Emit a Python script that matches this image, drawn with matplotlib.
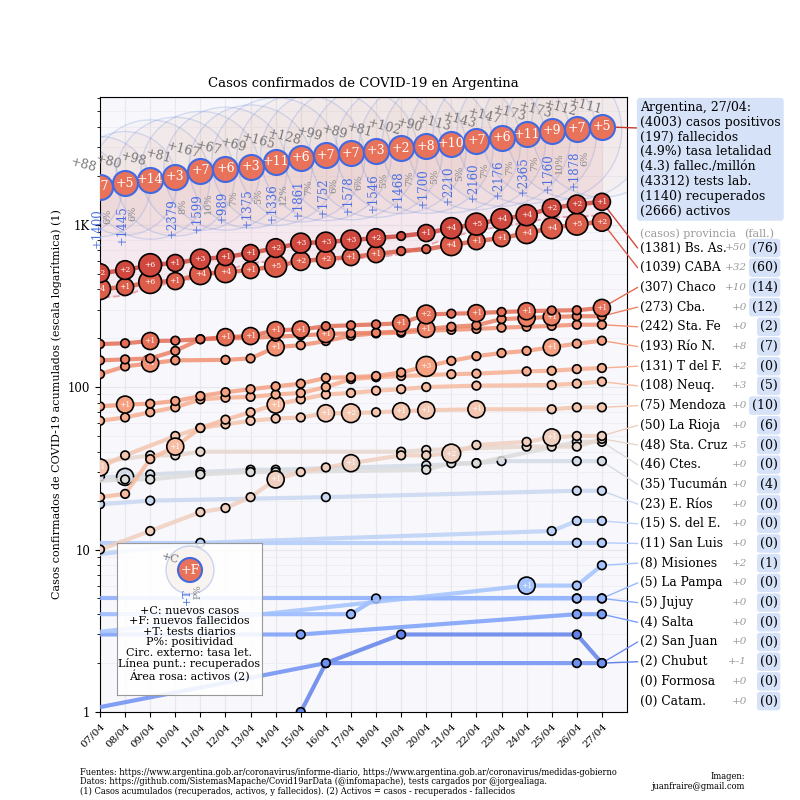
import numpy as np
import matplotlib
matplotlib.use('Agg')
import matplotlib.pyplot as plt
from matplotlib.patches import Circle

plt.rcParams['font.family'] = ['DejaVu Serif', 'DejaVu Sans']

N = None
dates = ['06/04', '07/04', '08/04', '09/04', '10/04', '11/04', '12/04', '13/04', '14/04',
         '15/04', '16/04', '17/04', '18/04', '19/04', '20/04', '21/04', '22/04', '23/04',
         '24/04', '25/04', '26/04', '27/04']

# ---- national series ----
arg_cases = [1627, 1715, 1795, 1893, 1974, 2141, 2208, 2277, 2442, 2570, 2669, 2758, 2839,
             2941, 3031, 3144, 3287, 3434, 3607, 3780, 3892, 4003]
arg_new_cases = [N, 88, 80, 98, 81, 167, 67, 69, 165, 128, 99, 89, 81, 102, 90, 113, 143, 147,
                 173, 173, 112, 111]
arg_deaths = [53, 60, 65, 79, 82, 89, 95, 98, 109, 115, 122, 129, 132, 134, 142, 152, 159, 165,
              176, 185, 192, 197]
arg_new_deaths = [N, 7, 5, 14, 3, 7, 6, 3, 11, 6, 7, 7, 3, 2, 8, 10, 7, 6, 11, 9, 7, 5]
arg_recovered = [340, 354, 366, 414, 440, 475, 520, 580, 596, 610, 615, 620, 625, 660, 740, 840,
                 919, 976, 1030, 1107, 1120, 1140]
arg_tests = [N, 1400, 1445, N, 2379, 1599, 989, 1375, 1336, 1861, 1752, 1578, 1546, 1468, 1700,
             2210, 2160, 2176, 2365, 1760, 1878, N]
arg_positivity = [N, 6, 6, N, 8, 10, 7, 5, 12, 7, 6, 6, 5, 7, 5, 5, 7, 7, 7, 10, 6, N]
arg_total_tests = 43312
arg_deaths_per_million = 4.3

# ---- provinces ----
prov_names = ['Bs. As.', 'CABA', 'Chaco', 'Cba.', 'Sta. Fe', 'Río N.', 'T del F.', 'Neuq.',
              'Mendoza', 'La Rioja', 'Sta. Cruz', 'Ctes.', 'Tucumán', 'E. Ríos', 'S. del E.',
              'San Luis', 'Misiones', 'La Pampa', 'Jujuy', 'Salta', 'San Juan', 'Chubut',
              'Formosa', 'Catam.']
prov_totals = [1381, 1039, 307, 273, 242, 193, 131, 108, 75, 50, 48, 46, 35, 23, 15, 11, 8, 5, 5,
               4, 2, 2, 0, 0]
prov_last_new = [50, 32, 10, 0, 0, 8, 2, 3, 0, 0, 5, 0, 0, 0, 0, 0, 2, 0, 0, 0, 0, -1, 0, 0]
prov_total_deaths = [76, 60, 14, 12, 2, 7, 0, 5, 10, 6, 0, 0, 4, 0, 0, 0, 1, 0, 0, 0, 0, 0, 0, 0]

bsas_cases = [480, 503, 525, 563, 580, 613, 631, 668, 717, 769, 780, 803, 826, 850, 887, 951, 1007,
              1081, 1143, 1264, 1331, 1381]
bsas_new_deaths = [0, 2, 2, 6, 1, 3, 1, 1, 2, 3, 3, 3, 2, 0, 1, 4, 5, 4, 4, 2, 2, 1]
caba_cases = [390, 401, 413, 443, 449, 496, 510, 525, 556, 596, 613, 631, 658, 687, 706, 748, 791,
              826, 887, 951, 1007, 1039]
caba_new_deaths = [0, 4, 1, 6, 1, 4, 4, 1, 5, 2, 2, 1, 1, 0, 0, 4, 1, 1, 4, 4, 5, 2]
chaco_cases = [180, 184, 186, 192, 193, 197, 203, 206, 224, 226, 237, 240, 243, 247, 280, 283, 285,
               290, 293, 296, 297, 307]
chaco_new_deaths = [0, 0, 0, 1, 0, 0, 1, 1, 1, 1, 0, 0, 0, 1, 2, 0, 1, 0, 1, 0, 0, 1]
cba_cases = [140, 146, 148, 150, 167, 197, 199, 201, 204, 208, 212, 214, 216, 220, 228, 235, 240,
             262, 266, 270, 273, 273]
cba_new_deaths = [0, 0, 0, 0, 0, 0, 0, 0, 0, 0, 1, 0, 0, 0, 1, 0, 0, 0, 1, 1, 0, 0]
stafe_cases = [115, 120, 134, 140, 146, N, 147, 150, 176, 181, 192, 207, 214, 216, 222, 225, 228,
               232, 235, 238, 242, 242]
stafe_new_deaths = [0, 0, 0, 1, 0, 0, 0, 0, 1, 0, 0, 0, 0, 0, 0, 0, 0, 0, 0, 0, 0, 0]
rion_cases = [74, 76, 78, 79, 82, 88, 93, 97, 101, 105, 114, 115, 117, 123, 134, 145, 155, 162,
              167, 176, 185, 193]
rion_new_deaths = [0, 0, 1, 0, 0, 0, 0, 0, 0, 0, 0, 0, 0, 0, 3, 0, 0, 0, 0, 1, 0, 0]
tdf_cases = [60, 62, 65, 70, 75, 84, 86, 87, 90, 92, 100, 112, 115, 117, N, 120, 121, N, 125, 126,
             129, 131]
neuq_cases = [19, 21, 22, 36, 43, 56, 63, 70, 78, 84, 90, 92, 95, 97, 100, N, 102, N, N, 103, 105,
              108]
neuq_new_deaths = [0, 0, 0, 0, 1, 0, 0, 0, 1, 0, 0, 0, 0, 0, 0, 0, 0, 0, 0, 0, 0, 0]
mza_cases = [28, 32, 38, N, 50, 56, 59, 62, 64, 65, 69, 69, 70, 71, 72, N, 73, N, N, 73, 75, 75]
mza_new_deaths = [0, 1, 0, 0, 0, 0, 0, 0, 0, 0, 1, 2, 0, 1, 1, 0, 1, 0, 0, 0, 0, 0]
lrioja_cases = [9, 10, N, 13, N, 17, 18, 21, 27, 30, 32, 34, N, 38, 38, 39, 44, N, 46, 49, 50, 50]
lrioja_new_deaths = [0, 0, 0, 0, 0, 0, 0, 0, 1, 0, 0, 1, 0, 0, 0, 2, 0, 0, 0, 1, 0, 0]
stacruz_cases = [33, N, N, 38, 38, 40, N, N, N, N, N, N, N, 40, 41, N, N, N, 43, 43, 43, 48]
ctes_cases = [26, N, 27, 27, N, 29, N, 30, 30, N, N, N, N, N, 31, 34, 34, N, N, N, 46, 46]
tucuman_cases = [27, 28, 28, 29, N, 30, N, 31, 31, N, N, N, N, N, 33, N, 34, 35, N, N, 35, 35]
tucuman_new_deaths = [0, 0, 1, 0, 0, 0, 0, 0, 0, 0, 0, 0, 0, 0, 0, 0, 0, 0, 0, 0, 0, 0]
erios_cases = [19, 19, N, 20, N, N, N, N, N, N, 21, N, N, N, N, N, N, N, N, N, 23, 23]
sde_cases = [9, N, N, N, N, 11, N, N, N, N, N, N, N, N, N, N, N, N, N, 13, 15, 15]
sanluis_cases = [11, N, N, N, N, N, N, N, N, N, N, N, N, N, N, N, N, N, N, N, 11, 11]
misiones_cases = [3, N, N, N, N, N, N, N, N, N, N, N, N, N, N, N, N, N, 6, N, 6, 8]
misiones_new_deaths = [0, 0, 0, 0, 0, 0, 0, 0, 0, 0, 0, 0, 0, 0, 0, 0, 0, 0, 1, 0, 0, 0]
lapampa_cases = [4, N, N, N, N, N, N, N, N, N, N, 4, 5, N, N, N, N, N, N, N, 5, 5]
jujuy_cases = [5, N, N, N, N, N, N, N, N, N, N, N, N, N, N, N, N, N, N, N, 5, 5]
salta_cases = [3, N, N, N, N, N, N, N, N, 3, N, N, N, N, N, N, N, N, N, N, 4, 4]
sanjuan_cases = [1, N, N, N, N, N, N, N, N, N, 2, N, N, N, N, N, N, N, N, N, 2, 2]
chubut_cases = [N, N, N, N, N, N, N, N, N, 1, 2, N, N, 3, N, N, N, N, N, N, 3, 2]

prov_cases = [bsas_cases, caba_cases, chaco_cases, cba_cases, stafe_cases, rion_cases, tdf_cases,
              neuq_cases, mza_cases, lrioja_cases, stacruz_cases, ctes_cases, tucuman_cases,
              erios_cases, sde_cases, sanluis_cases, misiones_cases, lapampa_cases, jujuy_cases,
              salta_cases, sanjuan_cases, chubut_cases, None, None]
prov_new_deaths = [bsas_new_deaths, caba_new_deaths, chaco_new_deaths, cba_new_deaths,
                   stafe_new_deaths, rion_new_deaths, None, neuq_new_deaths, mza_new_deaths,
                   lrioja_new_deaths, None, None, tucuman_new_deaths, None, None, None,
                   misiones_new_deaths, None, None, None, None, None, None, None]

# ---------------------------------------------------------------
PX2PT = 0.72
fig = plt.figure(figsize=(8, 8), dpi=100)
ax = fig.add_axes([0.125, 0.11, 0.65875, 0.76875])
ax.set_facecolor('#f8f8fc')
ax.set_yscale('log')
ax.set_xlim(1, 22)
ax.set_ylim(1, 6100)
ax.grid(True, which='major', color='#e7e7ee', lw=0.9)
ax.grid(True, which='minor', axis='y', color='#ededf3', lw=0.6)
ax.set_axisbelow(True)

xs_all = np.arange(len(dates))
cases = np.array(arg_cases, float)
deaths = np.array(arg_deaths, float)
recov = np.array(arg_recovered, float)
rate = deaths / cases

# active area (pink)
ax.fill_between(xs_all, recov, cases - deaths, color='#eec3d0', alpha=0.28, lw=0, zorder=1)
# outer circles: lethality
r_outer = 14.3 * rate * 100
ax.scatter(xs_all, cases, s=(2 * r_outer * PX2PT) ** 2, facecolor=(0.82, 0.5, 0.38, 0.035),
           edgecolor=(0.42, 0.56, 0.88, 0.25), linewidths=1, zorder=2)
# recovered dashed
ax.plot(xs_all, recov, ls='--', color='#e6a0a8', lw=1.3, zorder=3)

# provinces
cmap = plt.get_cmap('coolwarm')
nprov = len(prov_names)
colors = [cmap(0.92 - 0.87 * i / (nprov - 1)) for i in range(nprov)]
for i in reversed(range(nprov)):
    vals = prov_cases[i]
    if vals is None:
        continue
    xs = [k for k, v in enumerate(vals) if v is not None]
    ys = [vals[k] for k in xs]
    col = colors[i]
    z = 5 + (nprov - i) * 0.1
    ax.plot(xs, ys, color=col, lw=3.2 if i < 2 else 3, alpha=0.85, zorder=z,
            solid_capstyle='round')
    nd = prov_new_deaths[i] if prov_new_deaths[i] is not None else [0] * len(vals)
    sizes = []
    for k in xs:
        n = nd[k]
        r = 6.5 + 2 * np.sqrt(n) if n > 0 else 4.3
        sizes.append((2 * r * PX2PT) ** 2)
    ax.scatter(xs, ys, s=sizes, color=col, edgecolors='black', linewidths=1.2, zorder=z + 0.01)
    for k in xs:
        if nd[k] > 0:
            ax.text(k, vals[k], f'+{nd[k]}', color='white', fontsize=5.5, ha='center',
                    va='center', zorder=z + 0.02, clip_on=True)

# national inner circles
ax.scatter(xs_all, cases, s=(25 * PX2PT) ** 2, facecolor='#e8735a', edgecolor='#4169e1',
           linewidths=1.5, zorder=10)
for k in range(1, len(dates)):
    ax.text(k, cases[k], f'+{arg_new_deaths[k]}', color='white', fontsize=9, ha='center',
            va='center', zorder=11, clip_on=True)
    ax.annotate(f'+{arg_new_cases[k]}', xy=(k, cases[k]), xytext=(-17 * PX2PT, 21 * PX2PT),
                textcoords='offset points', rotation=-15, color='#777777', fontsize=9,
                ha='center', va='center', zorder=12)
    if arg_tests[k] is not None:
        ax.annotate(f'+{arg_tests[k]}', xy=(k, cases[k]), xytext=(-3 * PX2PT, -22 * PX2PT),
                    textcoords='offset points', rotation=90, color='#4a6fe3', fontsize=8.5,
                    ha='center', va='top', zorder=12)
        ax.annotate(f'{arg_positivity[k]}%', xy=(k, cases[k]), xytext=(8 * PX2PT, -22 * PX2PT),
                    textcoords='offset points', rotation=90, color='#8a8a8a', fontsize=7,
                    ha='center', va='top', zorder=12)

# axes styling
ax.set_xticks(range(1, len(dates)))
ax.set_xticklabels(dates[1:], rotation=45, ha='right', rotation_mode='anchor', fontsize=7.5)
ax.set_yticks([1, 10, 100, 1000])
ax.set_yticklabels(['1', '10', '100', '1K'], fontsize=8.5)
ax.set_title('Casos confirmados de COVID-19 en Argentina', fontsize=9.5, pad=7)
ax.set_ylabel('Casos confirmados de COVID-19 acumulados (escala logarítmica) (1)', fontsize=8)

# national info box
tasa = arg_deaths[-1] / arg_cases[-1] * 100
activos = arg_cases[-1] - arg_recovered[-1] - arg_deaths[-1]
box_text = (f'Argentina, {dates[-1]}:\n({arg_cases[-1]}) casos positivos\n'
            f'({arg_deaths[-1]}) fallecidos\n({tasa:.1f}%) tasa letalidad\n'
            f'({arg_deaths_per_million}) fallec./millón\n({arg_total_tests}) tests lab.\n'
            f'({arg_recovered[-1]}) recuperados\n({activos}) activos')
ax.annotate('', xy=(21, cases[-1]), xytext=(0.797, 1 - 128 / 800), textcoords='figure fraction',
            arrowprops=dict(arrowstyle='-', color='#c0392b', lw=1, shrinkA=0, shrinkB=0),
            annotation_clip=False)
fig.text(0.80, 1 - 101 / 800, box_text, fontsize=9, va='top', ha='left', linespacing=1.18,
         bbox=dict(boxstyle='round,pad=0.25', fc='#d6e2f8', ec='none'))

# province labels
fig.text(0.80, 1 - 234 / 800, '(casos) provincia', color='#9a9a9a', fontsize=8, va='center')
fig.text(0.968, 1 - 234 / 800, '(fall.)', color='#9a9a9a', fontsize=8, va='center', ha='right')
for i, name in enumerate(prov_names):
    yf = 1 - (248 + i * 19.7) / 800
    fig.text(0.80, yf, f'({prov_totals[i]}) {name}', fontsize=8.8, va='center', ha='left')
    fig.text(0.934, yf, f'+{prov_last_new[i]}', fontsize=7.5, va='center', ha='right',
             style='italic', color='#9a9a9a')
    fig.text(0.972, yf, f'({prov_total_deaths[i]})', fontsize=9, va='center', ha='right',
             bbox=dict(boxstyle='round,pad=0.22', fc='#d6e2f8', ec='none'))
    vals = prov_cases[i]
    if vals is not None:
        ax.annotate('', xy=(21, vals[-1]), xytext=(0.797, yf), textcoords='figure fraction',
                    arrowprops=dict(arrowstyle='-', color=colors[i], lw=1, shrinkA=0, shrinkB=0),
                    annotation_clip=False)

# legend box
lax = fig.add_axes([117 / 800, 105 / 800, 145 / 800, 152 / 800])
lax.set_xlim(0, 145)
lax.set_ylim(0, 152)
lax.set_xticks([])
lax.set_yticks([])
lax.patch.set_facecolor('white')
lax.patch.set_alpha(0.88)
for sp in lax.spines.values():
    sp.set_color('#999999')
lax.add_patch(Circle((73, 125), 24, fc=(0.82, 0.5, 0.38, 0.08), ec=(0.42, 0.56, 0.88, 0.35), lw=1))
lax.add_patch(Circle((73, 125), 12, fc='#e8735a', ec='#4169e1', lw=1.5))
lax.text(73, 125, '+F', color='white', fontsize=9, ha='center', va='center')
lax.text(53, 137, '+C', color='#777777', fontsize=8, ha='center', va='center', rotation=-15)
lax.text(70, 98, '+T', color='#4a6fe3', fontsize=8, ha='center', va='center', rotation=90)
lax.text(81, 103, 'P%', color='#8a8a8a', fontsize=6.5, ha='center', va='center', rotation=90)
lax.text(72.5, 89, '+C: nuevos casos\n+F: nuevos fallecidos\n+T: tests diarios\nP%: positividad\n'
         'Circ. externo: tasa let.\nLínea punt.: recuperados\nÁrea rosa: activos (2)',
         fontsize=8, ha='center', va='top', linespacing=1.05)

# footer
fig.text(0.1, 1 - 768 / 800,
         'Fuentes: https://www.argentina.gob.ar/coronavirus/informe-diario, '
         'https://www.argentina.gob.ar/coronavirus/medidas-gobierno\n'
         'Datos: https://github.com/SistemasMapache/Covid19arData (@infomapache), '
         'tests cargados por @jorgealiaga.\n'
         '(1) Casos acumulados (recuperados, activos, y fallecidos). '
         '(2) Activos = casos - recuperados - fallecidos',
         fontsize=6.7, va='top', ha='left', linespacing=1.05, fontstretch='condensed')
fig.text(0.931, 1 - 772 / 800, 'Imagen:\njuanfraire@gmail.com', fontsize=6.7, va='top',
         ha='right', multialignment='right', linespacing=1.1, fontstretch='condensed')

fig.savefig('out.png', dpi=100)
